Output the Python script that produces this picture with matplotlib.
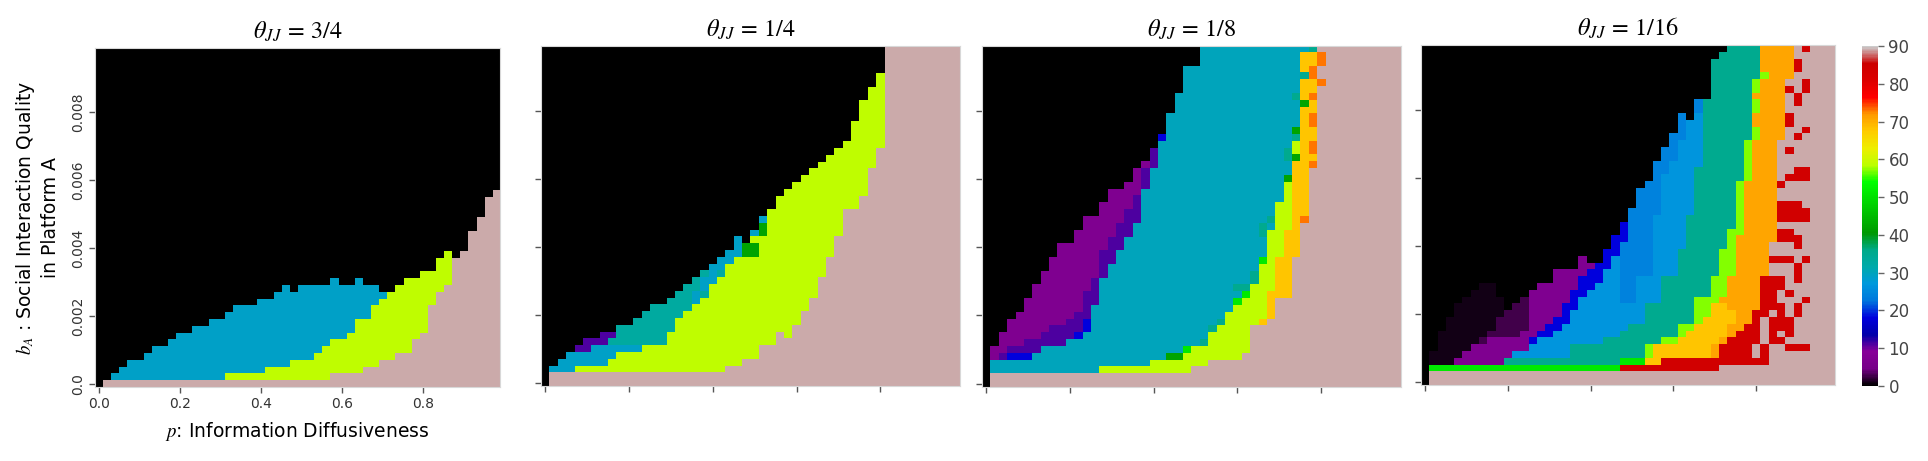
import matplotlib
matplotlib.use("Agg")
import matplotlib.pyplot as plt
import numpy as np

plt.rcParams["font.family"] = ["DejaVu Sans"]
plt.rcParams["mathtext.fontset"] = "stix"

THETA_LABELS = ["3/4", "1/4", "1/8", "1/16"]
P_TICKS = [0.0, 0.2, 0.4, 0.6, 0.8]
P_TICK_LABELS = ["0.0", "0.2", "0.4", "0.6", "0.8"]
B_TICKS = [0.0, 0.002, 0.004, 0.006, 0.008]
B_TICK_LABELS = ["0.0", "0.002", "0.004", "0.006", "0.008"]
CBAR_TICKS = [0, 10, 20, 30, 40, 50, 60, 70, 80, 90]

# grid: 50 values of p (0.00 .. 0.98) x 50 values of b_A (0.0000 .. 0.0098)
N_CELLS = 50
P_STEP = 0.02
B_STEP = 0.0002

# cell codes -> value on the 0-90 colour scale, '#' = no value (drawn pink)
CODE_VALUES = {
    ".": 0.0, "k": 1.0, "m": 2.5, "v": 7.0, "u": 11.0, "b": 18.0,
    "B": 24.0, "w": 26.5, "c": 29.0, "a": 30.0, "t": 33.0, "T": 35.0,
    "g": 42.0, "G": 51.0, "l": 57.0, "y": 59.0, "O": 68.0, "o": 71.0,
    "R": 73.0, "r": 84.0, "#": np.nan,
}

# theta_JJ = 3/4, 1/4, 1/8: one entry per p column, runs "code+count" from b_A = 0 up,
# cells above the last run are black
PANEL_3_4 = [
    "", "#1", "#1 c1", "#1 c2", "#1 c3", "#1 c3", "#1 c4", "#1 c5", "#1 c5", "#1 c6",
    "#1 c7", "#1 c7", "#1 c8", "#1 c8", "#1 c9", "#1 c9", "#1 y1 c9", "#1 y1 c10",
    "#1 y1 c10", "#1 y1 c10", "#1 y1 c11", "#1 y2 c10", "#1 y2 c11", "#1 y2 c12",
    "#1 y3 c10", "#1 y3 c11", "#1 y3 c11", "#1 y4 c10", "#1 y5 c9", "#2 y5 c9",
    "#2 y5 c8", "#2 y6 c7", "#2 y8 c6", "#3 y7 c5", "#3 y9 c3", "#4 y9 c1", "#4 y10",
    "#5 y10", "#5 y11", "#7 y9", "#8 y9", "#12 y5", "#14 y5", "#15 y5", "#19", "#20",
    "#23", "#25", "#28", "#29",
]

PANEL_1_4 = [
    "", "#2 c1", "#2 c2", "#2 c3", "#2 y1 c2 u1", "#2 y1 c2 u2", "#2 y1 c3 u1",
    "#2 y1 c3 u2", "#2 y2 c2 t1 u1", "#2 y3 c1 t3", "#2 y3 c1 t3", "#2 y3 c1 t4",
    "#2 y4 t5", "#2 y4 t6", "#2 y4 t6", "#2 y6 t5", "#2 y8 t4", "#2 y9 t4",
    "#2 y10 c2 t2", "#2 y11 t1 c2 t1", "#2 y13 c3", "#2 y14 t1 c2", "#3 y15 c2",
    "#3 y16 c3", "#4 y15 g2", "#4 y15 g2 y1 c1", "#6 y16 g2 c1", "#6 y20", "#8 y20",
    "#7 y22", "#9 y21", "#11 y20", "#13 y19", "#16 y17", "#19 y15", "#22 y13",
    "#26 y10", "#26 y13", "#28 y14", "#32 y12", "#35 y11",
    "#50", "#50", "#50", "#50", "#50", "#50", "#50", "#50", "#50",
]

PANEL_1_8 = [
    "", "#2 a2 v2", "#2 a2 u1 v3", "#2 a2 b1 u1 v4", "#2 a2 b1 u1 v5", "#2 a2 b1 u2 v6",
    "#2 a3 u2 v8", "#2 a4 u2 v9", "#2 a4 u3 v10", "#2 a4 u3 v12", "#2 a5 u3 v11",
    "#2 a5 b1 u3 v12", "#2 a6 b2 u4 v11", "#2 a10 u4 v9", "#2 y1 a13 u4 v7",
    "#2 y1 a15 u4 v7", "#2 y1 a17 u4 v5", "#2 y1 a19 u4 v4", "#2 y1 a21 u4 v4",
    "#2 y1 a26 u3 v1", "#2 y2 a28 u3", "#2 y2 a32 b1", "#2 y2 g1 a35", "#2 y2 g1 a38",
    "#2 y3 G1 a41", "#3 y3 a41", "#3 y3 T1 a43", "#4 y4 T1 a41", "#4 y5 T1 a40",
    "#4 y7 a39", "#4 y8 G1 a1 T1 a35", "#5 y8 G1 T1 a35", "#9 y6 T2 a33",
    "#9 O1 y8 G1 a3 T2 a26", "#10 O4 y9 a1 T1 a25", "#13 O6 y8 a23",
    "#13 O10 y7 g1 a2 T2 a15", "#19 O14 g1 y2 T1 g1 a4 T1 a7",
    "#24 R1 O16 g1 O3 T1 O3 a1", "#32 R1 O1 R2 O2 R2 O2 R1 O2 R2 O2 T1",
    "#44 R1 #2 R2 #1",
    "#50", "#50", "#50", "#50", "#50", "#50", "#50", "#50", "#50",
]

# theta_JJ = 1/16: one entry per b_A row (from b_A = 0 up), runs read left to right in p
PANEL_1_16_ROWS = [
    ".1 #49",
    ".1 #49",
    ".1 G23 r12 #14",
    ".1 k3 v6 T14 G3 O2 r13 #8",
    ".1 k4 v6 w7 T9 l1 O7 o1 r4 #1 r1 #8",
    ".2 k4 v7 w5 T9 l1 O7 o1 r4 #1 r1 #2 r3 #3",
    ".2 k5 m1 v5 b1 w8 T7 l2 O5 o1 r4 #1 r2 #6",
    ".2 k6 m4 v2 b2 w8 T7 l1 O5 o1 r3 #1 r1 #1 r1 #5",
    ".3 k6 m4 v2 b2 w8 T6 l2 O4 o2 r2 #1 r3 #5",
    ".3 k6 m4 v3 b2 w9 T6 l1 O4 o2 r1 #1 r3 #5",
    ".4 k6 m3 v4 b1 w9 T6 l2 O3 o2 r2 #1 r1 #1 r1 #4",
    ".4 k6 .1 m2 v4 b2 w8 T6 l2 O2 o4 r3 #1 r1 #4",
    ".5 k5 .2 m1 v5 b1 w5 B2 w3 T4 l3 o5 r2 #3 r1 #3",
    ".6 k3 .4 v5 b2 w4 B2 w3 T6 l2 o4 r2 #1 r1 #5",
    ".7 k2 .5 v5 b2 w3 B2 w3 T6 l2 o4 r3 #6",
    ".16 v3 b3 w2 B2 w3 T6 l2 o4 r3 #1 r1 #4",
    ".16 v4 b2 w2 B4 w3 T5 l2 o4 #3 r1 #4",
    ".19 v2 b2 w1 B4 w3 T5 l2 o4 #3 r1 #4",
    ".19 v1 .2 b1 w1 B4 w3 T5 l2 o4 r3 #1 r1 #3",
    ".22 b2 B4 w3 T5 l2 o4 #8",
    ".23 b1 B4 w4 T5 l1 o4 #3 r1 #4",
    ".23 b2 B3 w4 T5 l1 o5 r3 #4",
    ".24 b1 B3 w4 T5 l2 o4 r2 #5",
    ".24 b1 B3 w4 T6 l1 o4 #7",
    ".25 B3 w4 T6 l1 o4 r4 #3",
    ".25 B4 w4 T5 l1 o4 r4 #3",
    ".26 B3 w4 T5 l1 o4 r3 #4",
    ".26 B3 w4 T5 l1 o4 #7",
    ".26 B3 w4 T5 l1 o4 #7",
    ".27 B2 w4 T5 l1 o4 r1 #6",
    ".28 B1 w4 T6 l1 o3 #1 r3 #3",
    ".28 B2 w3 T6 l1 o3 #2 r2 #3",
    ".28 B2 w4 T5 l1 o3 #7",
    ".29 B2 w3 T5 l1 o3 #7",
    ".29 B2 w3 T5 l1 o3 #1 r1 #5",
    ".30 B1 w3 T5 l1 o3 #7",
    ".30 B2 w2 T6 l1 o3 #1 r1 #4",
    ".31 B1 w2 T6 l1 o3 #2 r1 #3",
    ".31 B1 w2 T6 o4 r1 #5",
    ".31 B1 .1 w1 T6 o4 r1 #5",
    ".33 B1 T6 l1 o3 #6",
    ".33 B1 T6 l1 o3 #1 r1 #4",
    ".35 T5 o4 #1 r1 #4",
    ".35 T5 l1 o3 r1 #1 r1 #3",
    ".35 T5 l1 o3 #2 r1 #3",
    ".35 T6 l1 o3 #5",
    ".35 T6 o4 r1 #4",
    ".35 T6 o4 r1 #4",
    ".36 T5 o4 #5",
    ".37 T4 o4 #1 r1 #3",
]

PINK = "#cbaaaa"


def decode_runs(spec):
    cells = np.zeros(N_CELLS)
    pos = 0
    for run in spec.split():
        count = int(run[1:])
        if pos + count > N_CELLS:
            raise ValueError(f"run overflow in {spec!r}")
        cells[pos:pos + count] = CODE_VALUES[run[0]]
        pos += count
    return cells


def grid_from_columns(columns):
    # returns array indexed [b row, p column]
    return np.column_stack([decode_runs(spec) for spec in columns])


def grid_from_rows(rows):
    return np.vstack([decode_runs(spec) for spec in rows])


grids = [
    grid_from_columns(PANEL_3_4),
    grid_from_columns(PANEL_1_4),
    grid_from_columns(PANEL_1_8),
    grid_from_rows(PANEL_1_16_ROWS),
]

# axes boxes in figure fraction (left, bottom, width, height)
AX_BOXES = [
    (0.0493, 0.1605, 0.2101, 0.7354),
    (0.2806, 0.1627, 0.2173, 0.7375),
    (0.5093, 0.1605, 0.2173, 0.7397),
    (0.7370, 0.1649, 0.2147, 0.7375),
]
CBAR_BOX = (0.9658, 0.1627, 0.0083, 0.7375)

extent = (
    -P_STEP / 2, (N_CELLS - 0.5) * P_STEP,
    -B_STEP / 2, (N_CELLS - 0.5) * B_STEP,
)

cmap = plt.get_cmap("nipy_spectral").copy()
cmap.set_bad(PINK)

fig = plt.figure(figsize=(19.28, 4.61), dpi=100)

im = None
for i, (box, grid, theta) in enumerate(zip(AX_BOXES, grids, THETA_LABELS)):
    ax = fig.add_axes(box)
    im = ax.imshow(
        np.ma.masked_invalid(grid),
        origin="lower",
        cmap=cmap,
        vmin=0,
        vmax=90,
        extent=extent,
        aspect="auto",
        interpolation="nearest",
    )
    ax.set_xticks(P_TICKS)
    ax.set_yticks(B_TICKS)
    ax.tick_params(length=4, width=1, color="#555555", labelsize=10,
                   labelcolor="#333333")
    for spine in ax.spines.values():
        spine.set_color("#d8d8d8")
        spine.set_linewidth(0.8)
    ax.set_title(r"$\theta_{JJ}\,=\,%s$" % theta, fontsize=17.5, pad=7)

    if i == 0:
        ax.set_xticklabels(P_TICK_LABELS)
        ax.set_yticklabels(B_TICK_LABELS, rotation=90, va="center")
        ax.set_xlabel(r"$p$: Information Diffusiveness", fontsize=13.5,
                      labelpad=6)
        ax.set_ylabel("$b_A$ : Social Interaction Quality\nin Platform A",
                      fontsize=13.5, labelpad=8, linespacing=1.25)
    else:
        ax.set_xticklabels([])
        ax.set_yticklabels([])

cax = fig.add_axes(CBAR_BOX)
cb = fig.colorbar(im, cax=cax, ticks=CBAR_TICKS)
cb.outline.set_visible(False)
cax.tick_params(length=4, width=1, color="#666666", labelsize=12,
                labelcolor="#444444")

fig.savefig("out.png", dpi=100)
